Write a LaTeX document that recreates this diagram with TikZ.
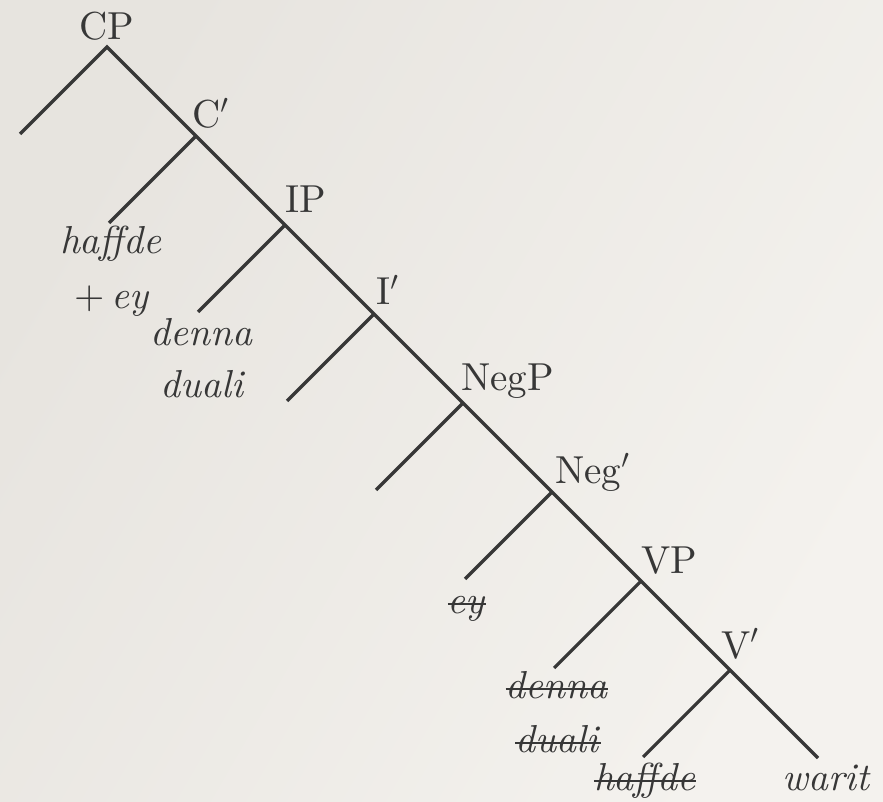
\documentclass[tikz,border=0pt]{standalone}
\usepackage{fix-cm}
\usepackage{fontspec}
\setmainfont{lmroman10-regular.otf}[ItalicFont=lmroman10-italic.otf, BoldFont=lmroman10-bold.otf]
\usetikzlibrary{calc}
\definecolor{ink}{RGB}{55,55,55}
\definecolor{paperL}{RGB}{231,228,223}
\definecolor{paperR}{RGB}{244,242,238}
\tikzset{
  branch/.style={draw=ink, line width=3.2pt, line join=miter},
  strike/.style={draw=ink, line width=1.8pt},
  lab/.style={text=ink, inner sep=0pt, font=\fontsize{39}{47}\selectfont},
  catlab/.style={lab, anchor=base west},
  leaflab/.style={lab, anchor=base}
}
\begin{document}
\begin{tikzpicture}[x=1pt,y=-1pt]
\shade[left color=paperL, right color=paperR, shading angle=60] (0,0) rectangle (883,802);
\useasboundingbox (0,0) rectangle (883,802);
% junctions
\coordinate (cp)   at (107,47);
\coordinate (c1)   at (196,136);
\coordinate (ip)   at (285,225);
\coordinate (i1)   at (374,314);
\coordinate (negp) at (463,403);
\coordinate (neg1) at (552,492);
\coordinate (vp)   at (641,581);
\coordinate (v1)   at (730,670);
% leaves
\coordinate (cpL)   at ($(cp)+(-87,87)$);
\coordinate (c1L)   at ($(c1)+(-87,87)$);
\coordinate (ipL)   at ($(ip)+(-87,87)$);
\coordinate (i1L)   at ($(i1)+(-87,87)$);
\coordinate (negpL) at ($(negp)+(-87,87)$);
\coordinate (neg1L) at ($(neg1)+(-87,87)$);
\coordinate (vpL)   at ($(vp)+(-87,87)$);
\coordinate (v1L)   at ($(v1)+(-87,87)$);
\coordinate (v1R)   at ($(v1)+(88,88)$);
% branches
\draw[branch] (cpL) -- (cp) -- (c1) -- (ip) -- (i1) -- (negp) -- (neg1) -- (vp) -- (v1) -- (v1R);
\draw[branch] (c1L) -- (c1);
\draw[branch] (ipL) -- (ip);
\draw[branch] (i1L) -- (i1);
\draw[branch] (negpL) -- (negp);
\draw[branch] (neg1L) -- (neg1);
\draw[branch] (vpL) -- (vp);
\draw[branch] (v1L) -- (v1);
% category labels
\node[lab, anchor=base] (tCP) at (107,40) {CP};
\node[catlab] (tC1) at (192,128) {C$'$};
\node[catlab] (tIP) at (285,213) {IP};
\node[catlab] (tI1) at (376,305) {I$'$};
\node[catlab] (tNegP) at (461,390) {NegP};
\node[catlab] (tNeg1) at (555,483) {Neg$'$};
\node[catlab] (tVP) at (641,573) {VP};
\node[catlab] (tV1) at (721,658) {V$'$};
% leaf labels
\node[leaflab] (lhaffde) at (111,254) {\textit{haffde}};
\node[leaflab] (ley) at (112,308) {+\,\textit{ey}};
\node[leaflab] (ldenna) at (202,345) {\textit{denna}};
\node[leaflab] (lduali) at (203,397) {\textit{duali}};
\node[leaflab] (sey) at (467,613) {\textit{ey}};
\node[leaflab] (sdenna) at (557,698) {\textit{denna}};
\node[leaflab] (sduali) at (558,752) {\textit{duali}};
\node[leaflab] (shaffde) at (645,790) {\textit{haffde}};
\node[leaflab] (lwarit) at (827,790) {\textit{warit}};
% strike-outs
\foreach \n in {sey,sdenna,sduali,shaffde}{
  \draw[strike] ($(\n.base west)+(0,-9)$) -- ($(\n.base east)+(0,-9)$);
}
\end{tikzpicture}
\end{document}
